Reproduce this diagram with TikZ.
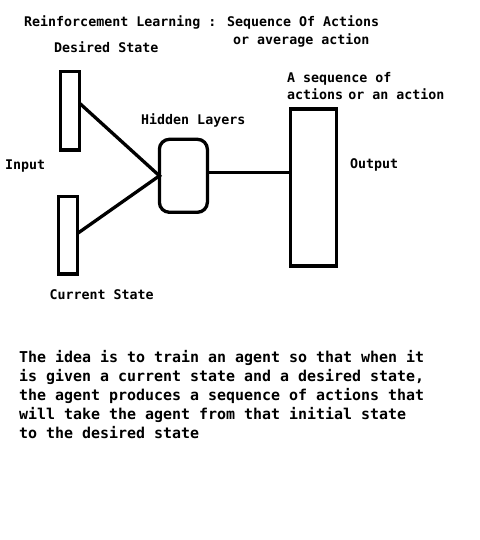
\documentclass[tikz,border=0pt]{standalone}
\usepackage{fontspec}
\newfontfamily\lblfont{DejaVu Sans Mono}
\begin{document}
\begin{tikzpicture}[x=1pt,y=-1pt,
  small/.style={anchor=base west,inner sep=0pt,font=\lblfont\bfseries\fontsize{13.3}{16}\selectfont},
  big/.style={anchor=base west,inner sep=0pt,font=\lblfont\bfseries\fontsize{14.95}{19}\selectfont},
  box/.style={draw,line width=3.3pt,inner sep=0pt,outer sep=0pt},
  wire/.style={line width=3.3pt}]
\fill[white] (0,0) rectangle (479,540);
\useasboundingbox (0,0) rectangle (479,540);

\node[small] (title) at (24,26.5) {Reinforcement Learning : Sequence Of Actions};
\node[small] (title2) at (233,44.5) {or average action};
\node[small] (deslbl) at (54,53) {Desired State};
\node[small] (seq1) at (287,83) {A sequence of};
\node[small] (seq2) at (287,100) {actions\hspace{-3pt} or an action};
\node[small] (hidlbl) at (141,125) {Hidden Layers};
\node[small] (inlbl) at (5,169.5) {Input};
\node[small] (outlbl) at (350,168.7) {Output};
\node[small] (curlbl) at (49.3,299) {Current State};

\node[box,minimum width=18.6pt,minimum height=78.3pt] (desired) at (70,110.8) {};
\node[box,minimum width=19.4pt,minimum height=77.3pt] (current) at (68,235.3) {};
\node[box,rounded corners=10pt,minimum width=48pt,minimum height=73pt] (hidden) at (183.4,175.8) {};
\node[box,minimum width=46pt,minimum height=157pt] (output) at (313.7,187.5) {};

\draw[wire,line join=miter] ([yshift=7.8pt]desired.east) -- (hidden.west) -- ([yshift=2pt]current.east);
\coordinate (h) at ([yshift=3.5pt]hidden.east);
\draw[wire] (h) -- (h -| output.west);

\node[big] (p1) at (19,362.7) {The idea is to train an agent so that when it};
\node[big] (p2) at (19,381.7) {is given a current state and a desired state,};
\node[big] (p3) at (19,400.7) {the agent produces a sequence of actions that};
\node[big] (p4) at (19,419.7) {will take the agent from that initial state};
\node[big] (p5) at (19,438.7) {to the desired state};
\end{tikzpicture}
\end{document}
